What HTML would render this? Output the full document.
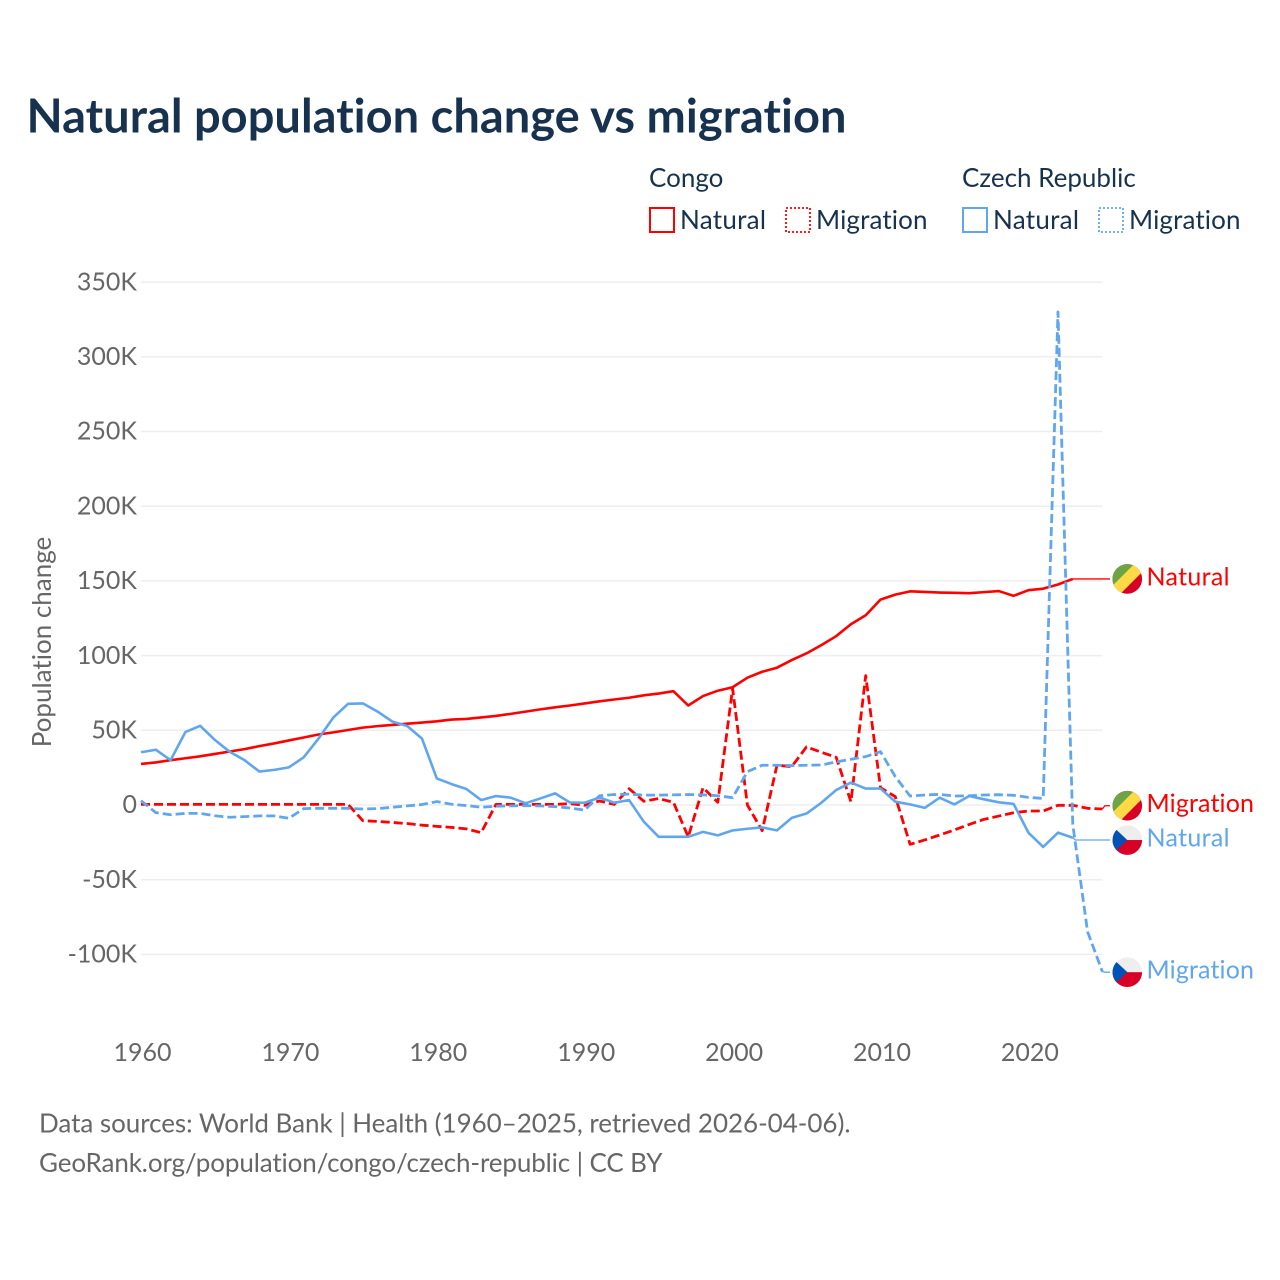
<!DOCTYPE html>
<html lang="en">
<head>
<meta charset="utf-8">
<title>Natural population change vs migration</title>
<style>
  html, body { margin: 0; padding: 0; background: #fff; }
  svg { display: block; }
  text { font-family: "Lato", "Carlito", "Liberation Sans", sans-serif; font-variant-ligatures: none; font-feature-settings: "liga" 0, "clig" 0; }
</style>
</head>
<body>
<svg id="chart" width="1280" height="1280" viewBox="0 0 1280 1280" xmlns="http://www.w3.org/2000/svg">
  <defs>
    <clipPath id="flag-clip"><circle cx="0" cy="0" r="14.8"></circle></clipPath>
    <g id="flag-congo">
      <g clip-path="url(#flag-clip)">
        <rect x="-16" y="-16" width="32" height="32" fill="#d80027"></rect>
        <polygon points="-16,16 -16,-16 16,-16" fill="#6da544"></polygon>
        <polygon points="-16,8 8,-16 16,-16 16,-8 -8,16 -16,16" fill="#ffda44"></polygon>
      </g>
    </g>
    <g id="flag-czech">
      <g clip-path="url(#flag-clip)">
        <rect x="-16" y="-16" width="32" height="16" fill="#eeeeee"></rect>
        <rect x="-16" y="0" width="32" height="16" fill="#d80027"></rect>
        <polygon points="-16,-15 0,0 -16,15" fill="#0052b4"></polygon>
      </g>
    </g>
  </defs>
  <rect x="0" y="0" width="1280" height="1280" fill="#ffffff"></rect>

  <text x="26.5" y="132.5" font-size="47" font-weight="700" fill="#17324f" textLength="820">Natural population change vs migration</text>

  <g>
    <text x="649" y="187" font-size="26" fill="#17324f">Congo</text>
    <text x="962" y="187" font-size="26" fill="#17324f">Czech Republic</text>

    <g>
      <rect x="650" y="208" width="24" height="24" fill="none" stroke="#ff0000" stroke-width="2"></rect>
      <text x="680" y="229" font-size="26" fill="#17324f" textLength="86">Natural</text>
    </g>
    <g>
      <rect x="786" y="208" width="24" height="24" fill="none" stroke="#ff0000" stroke-width="1.8" stroke-dasharray="2 2"></rect>
      <text x="816" y="229" font-size="26" fill="#17324f" textLength="111.5">Migration</text>
    </g>
    <g>
      <rect x="963" y="208" width="24" height="24" fill="none" stroke="#60a6ee" stroke-width="2"></rect>
      <text x="993" y="229" font-size="26" fill="#17324f" textLength="86">Natural</text>
    </g>
    <g>
      <rect x="1099" y="208" width="24" height="24" fill="none" stroke="#60a6ee" stroke-width="1.8" stroke-dasharray="2 2"></rect>
      <text x="1129" y="229" font-size="26" fill="#17324f" textLength="111.5">Migration</text>
    </g>
  </g>

  <text transform="translate(51 642) rotate(-90)" text-anchor="middle" font-size="26" fill="#666666">Population change</text>

  <g id="grid"></g>
  <g id="y-ticks"></g>
  <g id="x-ticks"></g>
  <g id="series"></g>
  <g id="end-labels"></g>

  <text x="39" y="1132.5" font-size="26" fill="#666666" textLength="811.5">Data sources: World Bank | Health (1960–2025, retrieved 2026-04-06).</text>
  <text x="39" y="1172" font-size="26" fill="#666666" textLength="623.5">GeoRank.org/population/congo/czech-republic | CC BY</text>
</svg>

<script>
const startYear = 1960;
const yTickValues = [-100, -50, 0, 50, 100, 150, 200, 250, 300, 350];
const yTickLabels = ['-100K', '-50K', '0', '50K', '100K', '150K', '200K', '250K', '300K', '350K'];
const xTickYears = [1960, 1970, 1980, 1990, 2000, 2010, 2020];
const xTickLabels = ['1960', '1970', '1980', '1990', '2000', '2010', '2020'];

/* Values in thousands, one per year from 1960. */
const congoNatural = [27.5, 28.5, 30, 31.3, 32.6, 34.2, 35.8, 37.4, 39.4, 41.2, 43.2, 45.2, 47.2, 48.6, 50.2, 51.8, 52.8, 53.6, 54.4, 55.2, 56, 57.2, 57.6, 58.6, 59.6, 61, 62.5, 64, 65.4, 66.6, 68, 69.4, 70.6, 71.8, 73.4, 74.6, 76.2, 66.6, 72.9, 76.5, 78.8, 85.2, 89.2, 91.9, 97, 101.5, 107, 113, 121, 127, 137.5, 140.8, 143, 142.6, 142.2, 142, 141.8, 142.5, 143.2, 140, 143.8, 144.8, 147.6, 151.3];
const congoMigration = [0.4, 0.4, 0.4, 0.4, 0.4, 0.4, 0.4, 0.4, 0.4, 0.4, 0.4, 0.4, 0.4, 0.4, 0.4, -10.5, -11, -11.7, -12.4, -13.5, -14.3, -15, -16, -18.5, 0.4, 0.4, 0.4, 0.4, 0.4, 0.9, -0.2, 2.7, 0.4, 10.9, 2.5, 4.3, 1.8, -21.3, 11.6, 1.8, 78, 0, -17.2, 26.6, 25.7, 38.9, 35.3, 32, 2.2, 86.6, 11.6, 5.6, -26.3, -23.4, -20.1, -16.7, -13, -9.6, -7.4, -5.2, -4, -4, -0.2, -0.2, -2.2, -2.7];
const czechNatural = [35.3, 37, 30, 48.8, 53, 43.5, 35.6, 30, 22.4, 23.5, 25.2, 31.9, 44.4, 58.5, 67.7, 68, 62.5, 55.8, 52.9, 44.4, 17.8, 14, 10.7, 3.3, 6, 4.9, 1.2, 4.4, 7.8, 1.7, 1.5, 5, 1.5, 3.3, -11.2, -21.3, -21.3, -21.3, -18, -20.3, -17, -15.9, -15, -17, -8.6, -5.7, 1.5, 10, 15, 11, 11, 2.2, 0.4, -1.9, 4.9, 0.4, 6, 3.8, 1.8, 0.7, -18.5, -28.1, -18.5, -21.9];
const czechMigration = [2.9, -5.1, -6.5, -5.6, -5.6, -7.2, -8.2, -7.8, -7.3, -7.3, -8.9, -2.4, -2.2, -2.2, -2.2, -2.7, -2.4, -1.5, -0.6, 0.3, 2.3, 0.5, -0.4, -1.5, -0.8, -0.6, -0.4, -0.6, -1.1, -2, -3.4, 6.2, 7, 7.3, 6.6, 6.6, 6.8, 7, 6.8, 6.2, 4.9, 22.3, 26.6, 26.6, 26.4, 26.6, 26.8, 28.8, 30.6, 32.4, 35.7, 19, 6, 6.7, 7.1, 6, 6.2, 6.7, 6.9, 6.5, 5.1, 4.4, 330, -13, -84.8, -111.5];

const ns = 'http://www.w3.org/2000/svg';
const xScale = (year) => 141 + (year - startYear) * 14.79;
const yScale = (value) => 805 - value * 1.494;

function svgEl(parent, tag, attrs) {
  const el = document.createElementNS(ns, tag);
  for (const key in attrs) el.setAttribute(key, attrs[key]);
  parent.appendChild(el);
  return el;
}

const gridGroup = document.getElementById('grid');
const yGroup = document.getElementById('y-ticks');
yTickValues.forEach((value, i) => {
  const line = svgEl(gridGroup, 'line', { x1: 141, x2: xScale(2025), y1: yScale(value), y2: yScale(value), stroke: '#eeeeee', 'stroke-width': 1.5 });
  
  
  const tick = svgEl(yGroup, 'text', { x: 137, y: yScale(value) + 8.2, 'text-anchor': 'end', 'font-size': 25, fill: '#666666' });
  
  
  tick.textContent = yTickLabels[i];
});

const xGroup = document.getElementById('x-ticks');
xTickYears.forEach((year, i) => {
  const tick = svgEl(xGroup, 'text', { x: xScale(year) + 1.5, y: 1061, 'text-anchor': 'middle', 'font-size': 25, fill: '#666666' });
  
  
  tick.textContent = xTickLabels[i];
});

function drawSeries(values, color, dashed, name) {
  const group = document.getElementById('series');
  const d = values.map((v, i) => (i ? 'L' : 'M') + xScale(startYear + i).toFixed(2) + ' ' + yScale(v).toFixed(2)).join(' ');
  const attrs = { d: d, fill: 'none', stroke: color, 'stroke-width': dashed ? 2.8 : 2.6, 'stroke-linejoin': 'round' };
  if (dashed) attrs['stroke-dasharray'] = '9 4';
  const path = svgEl(group, 'path', attrs);
  
  
}
drawSeries(congoNatural, '#ff0000', false, 'line-congo-natural');
drawSeries(congoMigration, '#ff0000', true, 'line-congo-migration');
drawSeries(czechNatural, '#60a6ee', false, 'line-czech-natural');
drawSeries(czechMigration, '#60a6ee', true, 'line-czech-migration');

function drawEndLabel(values, labelShift, color, flag, text, width, name) {
  const group = document.getElementById('end-labels');
  const last = values.length - 1;
  const lastX = xScale(startYear + last);
  const lastY = yScale(values[last]);
  const flagY = lastY + labelShift;
  const connector = svgEl(group, 'polyline', { points: lastX + ',' + lastY + ' ' + (lastX + 2.5) + ',' + flagY + ' 1110,' + flagY, fill: 'none', stroke: color, 'stroke-width': 1.3 });
  
  
  const badge = svgEl(group, 'use', { href: '#' + flag, x: 1127.3, y: flagY });
  
  
  const label = svgEl(group, 'text', { x: 1146.5, y: flagY + 6.3, 'font-size': 25, fill: color, textLength: width });
  
  
  label.textContent = text;
}
drawEndLabel(congoNatural, 0, '#ff0000', 'flag-congo', 'Natural', 83, 'end-congo-natural');
drawEndLabel(congoMigration, -3.3, '#ff0000', 'flag-congo', 'Migration', 107.5, 'end-congo-migration');
drawEndLabel(czechNatural, 2.3, '#60a6ee', 'flag-czech', 'Natural', 83, 'end-czech-natural');
drawEndLabel(czechMigration, 0.6, '#60a6ee', 'flag-czech', 'Migration', 107.5, 'end-czech-migration');
</script>
</body>
</html>
